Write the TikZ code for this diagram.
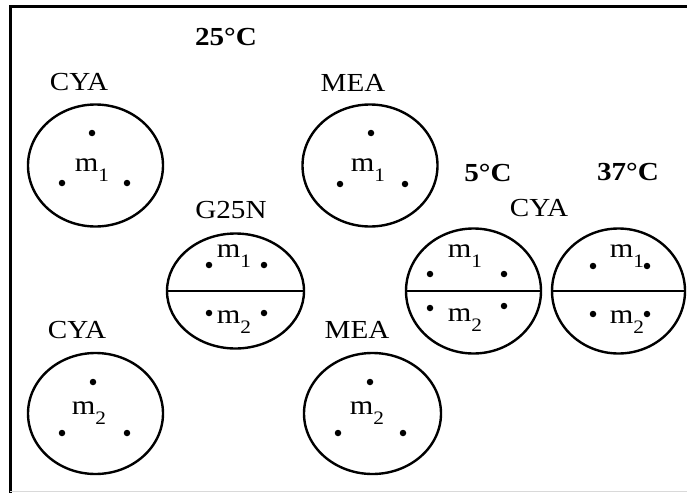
\documentclass[tikz,border=0pt]{standalone}
\usepackage{fontspec}
\setmainfont{Liberation Serif}[FakeStretch=1.12]
\usetikzlibrary{shapes.geometric}
\newcommand{\msub}[1]{m\raisebox{-0.36em}{\fontsize{19}{19}\selectfont #1}}
\tikzset{
  dish/.style={ellipse, draw, line width=2.4pt, inner sep=0pt, minimum width=135pt, minimum height=122pt},
  spot/.style={circle, fill, inner sep=0pt, minimum size=6.5pt},
  medium/.style={font=\fontsize{26}{26}\selectfont, inner sep=0pt},
  temp/.style={font=\fontsize{26}{26}\selectfont\bfseries, inner sep=0pt},
  strain/.style={font=\fontsize{27}{27}\selectfont, inner sep=0pt},
  divider/.style={line width=1.5pt}
}
\begin{document}
\begin{tikzpicture}[x=1pt,y=-1pt]
\useasboundingbox (0,0) rectangle (687,492);
\fill[white] (0,0) rectangle (687,492);
% frame
\draw[line width=3pt] (10,493) -- (10,7) -- (690,7);
\draw[line width=1pt, black!15] (10,491) -- (690,491);

% temperatures
\node[temp] (t25) at (226,37) {25°C};
\node[temp] (t5) at (488,173) {5°C};
\node[temp] (t37) at (628,172) {37°C};

% CYA m1
\node[medium] (lcya1) at (79,82) {CYA};
\node[dish] (d1) at (95.5,165.5) {};
\node[spot] at (92,133) {};
\node[spot] at (62,183) {};
\node[spot] at (127,183) {};
\node[strain] (s1) at (92,170) {\msub{1}};

% MEA m1
\node[medium] (lmea1) at (353,83) {MEA};
\node[dish] (d2) at (370,165.5) {};
\node[spot] at (371,133) {};
\node[spot] at (340,184) {};
\node[spot] at (405,184) {};
\node[strain] (s2) at (368,170) {\msub{1}};

% G25N
\node[medium] (lg) at (231,210) {G25N};
\node[dish, minimum width=137pt, minimum height=115pt] (d3) at (235.5,291) {};
\draw[divider] (d3.west) -- (d3.east);
\node[spot] at (209,265) {};
\node[spot] at (264,265) {};
\node[spot] at (209,313) {};
\node[spot] at (264,313) {};
\node[strain] (s3a) at (234,256) {\msub{1}};
\node[strain] (s3b) at (234,322) {\msub{2}};

% 5C CYA
\node[medium] (lcya5) at (539,208) {CYA};
\node[dish, minimum width=135pt, minimum height=125pt] (d4) at (473.5,291) {};
\draw[divider] (d4.west) -- (d4.east);
\node[spot] at (430,274) {};
\node[spot] at (504,274) {};
\node[spot] at (430,308) {};
\node[spot] at (504,306) {};
\node[strain] (s4a) at (465,256) {\msub{1}};
\node[strain] (s4b) at (465,320) {\msub{2}};

% 37C CYA
\node[dish, minimum width=133pt, minimum height=125pt] (d5) at (618.5,291) {};
\draw[divider] (d5.west) -- (d5.east);
\node[spot] at (593,266) {};
\node[spot] at (647,266) {};
\node[spot] at (593,314) {};
\node[spot] at (647,314) {};
\node[strain] (s5a) at (627,256) {\msub{1}};
\node[strain] (s5b) at (627,322) {\msub{2}};

% CYA m2
\node[medium] (lcya2) at (77,330) {CYA};
\node[dish, minimum height=121pt] (d6) at (95.5,413.5) {};
\node[spot] at (93,382) {};
\node[spot] at (62,433) {};
\node[spot] at (127,433) {};
\node[strain] (s6) at (89,413) {\msub{2}};

% MEA m2
\node[medium] (lmea2) at (357,330) {MEA};
\node[dish, minimum width=137pt, minimum height=121pt] (d7) at (372.5,413.5) {};
\node[spot] at (370,382) {};
\node[spot] at (338,433) {};
\node[spot] at (403,433) {};
\node[strain] (s7) at (367,413) {\msub{2}};
\end{tikzpicture}
\end{document}
